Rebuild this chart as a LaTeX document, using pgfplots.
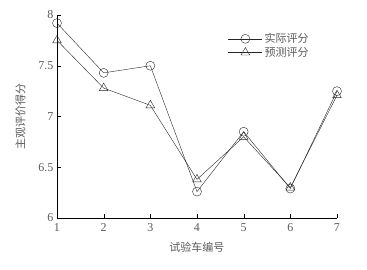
\documentclass[border=0pt]{standalone}
\usepackage{pgfplots}
\pgfplotsset{compat=1.18}
\usepackage{fontspec}
\setmainfont{Liberation Serif}
\newfontfamily\cjk{Noto Sans CJK SC}
\definecolor{txt}{RGB}{90,90,90}
\begin{document}
\begin{tikzpicture}
\begin{axis}[
  scale only axis, width=280pt, height=203pt,
  xmin=1, xmax=7, ymin=6, ymax=8,
  axis lines=left, axis line style={black, -},
  xtick={1,...,7}, ytick={6,6.5,7,7.5,8},
  yticklabels={6,6.5,7,7.5,8},
  tick align=inside, tick style={black},
  /pgf/number format/assume math mode=true,
  tick label style={font=\fontsize{12}{13}\selectfont, text=txt},
  xticklabel style={yshift=-2pt},
  xlabel={\cjk 试验车编号}, ylabel={\cjk 主观评价得分},
  label style={font=\fontsize{11}{13}\selectfont, text=txt},
  xlabel style={yshift=-4pt},
  ylabel style={yshift=6pt},
  legend style={draw=none, fill=none, at={(0.6,0.93)}, anchor=north west, font=\fontsize{11}{13}\selectfont, text=txt, row sep=-1pt},
  legend image code/.code={\draw[#1] (0pt,0pt) -- (34pt,0pt); \draw[#1, only marks] plot coordinates {(17pt,0pt)};},
  legend cell align=left,
  clip=false,
]
\addplot[black!85, mark=o, mark size=4.5pt, mark options={fill=white}] coordinates {(1,7.92) (2,7.43) (3,7.50) (4,6.26) (5,6.85) (6,6.29) (7,7.25)};
\addlegendentry{\cjk 实际评分}
\addplot[black!85, mark=triangle, mark size=5pt, mark options={fill=none}] coordinates {(1,7.75) (2,7.28) (3,7.11) (4,6.38) (5,6.80) (6,6.30) (7,7.21)};
\addlegendentry{\cjk 预测评分}
\end{axis}
\path (-57pt,-51pt) rectangle ++(367pt,269pt);
\end{tikzpicture}
\end{document}
